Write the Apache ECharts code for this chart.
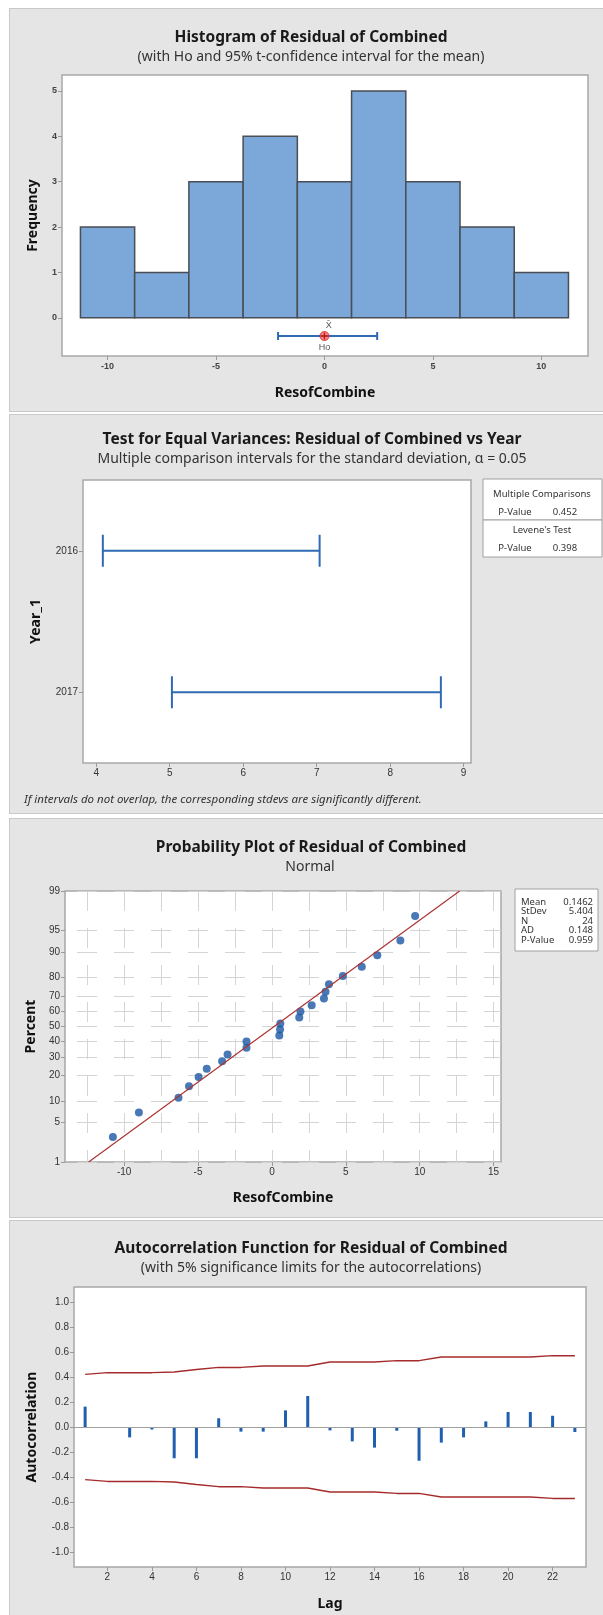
<!DOCTYPE html>
<html>
<head>
<meta charset="utf-8">
<script src="https://cdn.jsdelivr.net/npm/echarts@6/dist/echarts.min.js"></script>
<style>
  html, body { margin: 0; padding: 0; background: #fff; }
  #wrap { position: relative; width: 603px; height: 1615px; overflow: hidden; }
  .panel { position: absolute; left: 9px; width: 600px; background: #e5e5e5; border: 1px solid #c9c9c9; box-sizing: border-box; }
  #chart { position: absolute; left: 0; top: 0; width: 603px; height: 1615px; }
</style>
</head>
<body>
<div id="wrap">
  <div class="panel" style="top:8px;height:404px"></div>
  <div class="panel" style="top:414px;height:400px"></div>
  <div class="panel" style="top:818px;height:400px"></div>
  <div class="panel" style="top:1220px;height:400px"></div>
  <div id="chart"></div>
</div>
<script>
// --- histogram of residuals
const binMids = [-10, -7.5, -5, -2.5, 0, 2.5, 5, 7.5, 10];
const binWidth = 2.5;
const binCounts = [2, 1, 3, 4, 3, 5, 3, 2, 1];
const histTicksX = [-10, -5, 0, 5, 10];
const histTicksY = [0, 1, 2, 3, 4, 5];
const meanCI = [-2.14, 2.43];
const meanVal = 0.1462;
const hoVal = 0;

// --- test for equal variances
const years = ['2016', '2017'];
const sdLow = [4.09, 5.03];
const sdHigh = [7.04, 8.69];
const varTicks = [4, 5, 6, 7, 8, 9];
const mcPValue = '0.452';
const levenePValue = '0.398';

// --- probability plot
const residuals = [-10.76, -9.0, -6.32, -5.61, -4.96, -4.41, -3.37, -3.0, -1.72, -1.72, 0.5, 0.55,
  0.57, 1.85, 1.93, 2.69, 3.52, 3.63, 3.86, 4.8, 6.08, 7.13, 8.69, 9.69];
const percents = [2.9, 7.0, 11.1, 15.2, 19.3, 23.4, 27.5, 31.6, 35.7, 39.8, 43.9, 48.0,
  52.0, 56.1, 60.2, 64.3, 68.4, 72.5, 76.6, 80.7, 84.8, 88.9, 93.0, 97.1];
const fitX = [-12.4, 12.7];
const fitP = [1, 99];
const probTicksX = [-10, -5, 0, 5, 10, 15];
const probGridX = [-12.5, -10, -7.5, -5, -2.5, 0, 2.5, 5, 7.5, 10, 12.5, 15];
const percentTicks = [1, 5, 10, 20, 30, 40, 50, 60, 70, 80, 90, 95, 99];
const statNames = ['Mean', 'StDev', 'N', 'AD', 'P-Value'];
const statValues = ['0.1462', '5.404', '24', '0.148', '0.959'];

// --- autocorrelation
const lags = [1, 2, 3, 4, 5, 6, 7, 8, 9, 10, 11, 12, 13, 14, 15, 16, 17, 18, 19, 20, 21, 22, 23];
const acf = [0.163, 0.0, -0.083, -0.02, -0.25, -0.25, 0.07, -0.037, -0.037, 0.133, 0.248, -0.027,
  -0.115, -0.165, -0.03, -0.27, -0.125, -0.083, 0.045, 0.12, 0.12, 0.09, -0.04];
const upperLimit = [0.421, 0.435, 0.435, 0.435, 0.44, 0.46, 0.477, 0.477, 0.488, 0.488, 0.488, 0.52,
  0.52, 0.52, 0.531, 0.531, 0.56, 0.56, 0.56, 0.56, 0.56, 0.571, 0.571];
const lowerLimit = [-0.421, -0.435, -0.435, -0.435, -0.44, -0.46, -0.477, -0.477, -0.488, -0.488, -0.488, -0.52,
  -0.52, -0.52, -0.531, -0.531, -0.56, -0.56, -0.56, -0.56, -0.56, -0.571, -0.571];
const acfTicksX = [2, 4, 6, 8, 10, 12, 14, 16, 18, 20, 22];
const acfTicksY = [-1.0, -0.8, -0.6, -0.4, -0.2, 0.0, 0.2, 0.4, 0.6, 0.8, 1.0];

// inverse normal cdf (Acklam) for the probability scale
function probit(p) {
  const a = [-39.69683028665376, 220.9460984245205, -275.9285104469687, 138.357751867269, -30.66479806614716, 2.506628277459239];
  const b = [-54.47609879822406, 161.5858368580409, -155.6989798598866, 66.80131188771972, -13.28068155211639];
  const c = [-0.007784894002430293, -0.3223964580411365, -2.400758277161838, -2.549732539343734, 4.374664141464968, 2.938163982698783];
  const d = [0.007784695709041462, 0.3224671290700398, 2.445134137142996, 3.754408661907416];
  const pl = 0.02425;
  let q, r;
  if (p < pl) {
    q = Math.sqrt(-2 * Math.log(p));
    return (((((c[0]*q+c[1])*q+c[2])*q+c[3])*q+c[4])*q+c[5]) / ((((d[0]*q+d[1])*q+d[2])*q+d[3])*q+1);
  }
  if (p <= 1 - pl) {
    q = p - 0.5; r = q * q;
    return (((((a[0]*r+a[1])*r+a[2])*r+a[3])*r+a[4])*r+a[5])*q / (((((b[0]*r+b[1])*r+b[2])*r+b[3])*r+b[4])*r+1);
  }
  q = Math.sqrt(-2 * Math.log(1 - p));
  return -(((((c[0]*q+c[1])*q+c[2])*q+c[3])*q+c[4])*q+c[5]) / ((((d[0]*q+d[1])*q+d[2])*q+d[3])*q+1);
}
const probTicksY = percentTicks.map(p => probit(p / 100));

const chart = echarts.init(document.getElementById('chart'));

const tickFont = { fontFamily: 'Liberation Sans', fontSize: 10, color: '#333' };
const nameFont = { fontFamily: 'Noto Sans', fontSize: 14, fontWeight: 'bold', color: '#111' };
const titleFont = 'bold 15.5px "Noto Sans"';
const subFont = '14px "Noto Sans"';
const smallFont = '9.5px "Noto Sans"';
const boxBorder = '#a8a8a8';

function txt(x, y, s, font, align, color) {
  return {
    type: 'text', x: x, y: y, silent: true,
    style: { text: s, font: font, textAlign: align || 'center', textVerticalAlign: 'middle',
      align: align || 'center', verticalAlign: 'middle', fill: color || '#1a1a1a' }
  };
}
function box(x, y, w, h) {
  return { type: 'rect', silent: true, shape: { x: x, y: y, width: w, height: h },
    style: { fill: '#fff', stroke: '#a0a0a0', lineWidth: 1 } };
}

function valueAxis(gi, min, max, ticks, extra) {
  return Object.assign({
    type: 'value', gridIndex: gi, min: min, max: max,
    axisLine: { show: false, onZero: false },
    axisTick: { show: true, length: 4, customValues: ticks, lineStyle: { color: '#9a9a9a' } },
    axisLabel: Object.assign({ customValues: ticks, margin: 5 }, tickFont),
    splitLine: { show: false }
  }, extra || {});
}

const gridStyle = { show: true, backgroundColor: '#fff', borderColor: boxBorder, borderWidth: 1.5 };
const gridDash = { color: '#d4d4d4', width: 1, type: [20, 17] };

const option = {
  animation: false,
  grid: [
    Object.assign({ left: 62, top: 75, width: 526, height: 281 }, gridStyle),
    Object.assign({ left: 83, top: 480, width: 388, height: 283 }, gridStyle),
    Object.assign({ left: 65, top: 891, width: 436, height: 271 }, gridStyle),
    Object.assign({ left: 74, top: 1287, width: 512, height: 280 }, gridStyle)
  ],
  xAxis: [
    valueAxis(0, -12.1, 12.15, histTicksX, {
      name: 'ResofCombine', nameLocation: 'middle', nameGap: 30, nameTextStyle: nameFont,
      axisLabel: Object.assign({ customValues: histTicksX, margin: 6 }, tickFont, { fontSize: 9, fontWeight: 'bold', color: '#444' })
    }),
    valueAxis(1, 3.82, 9.1, varTicks),
    valueAxis(2, -14, 15.5, probTicksX, { name: 'ResofCombine', nameLocation: 'middle', nameGap: 29, nameTextStyle: nameFont }),
    {
      type: 'value', gridIndex: 2, min: -14, max: 15.5,
      axisLine: { show: false, onZero: false }, axisLabel: { show: false },
      axisTick: { show: false, customValues: probGridX },
      splitLine: { show: true, lineStyle: gridDash }
    },
    valueAxis(3, 0.5, 23.5, acfTicksX, { name: 'Lag', nameLocation: 'middle', nameGap: 30, nameTextStyle: nameFont })
  ],
  yAxis: [
    valueAxis(0, -0.84, 5.35, histTicksY, {
      name: 'Frequency', nameLocation: 'middle', nameGap: 22, nameTextStyle: nameFont,
      axisLabel: Object.assign({ customValues: histTicksY, margin: 5 }, tickFont, { fontSize: 9, fontWeight: 'bold', color: '#444' })
    }),
    {
      type: 'category', gridIndex: 1, data: years, inverse: true,
      axisLine: { show: false, onZero: false },
      axisTick: { show: true, length: 4, alignWithLabel: true, lineStyle: { color: '#9a9a9a' } },
      axisLabel: Object.assign({ margin: 5 }, tickFont),
      name: 'Year_1', nameLocation: 'middle', nameGap: 40, nameTextStyle: nameFont
    },
    valueAxis(2, probit(0.01), probit(0.99), probTicksY, {
      name: 'Percent', nameLocation: 'middle', nameGap: 23, nameTextStyle: nameFont,
      axisLabel: Object.assign({
        customValues: probTicksY, margin: 5,
        formatter: v => {
          const i = probTicksY.findIndex(t => Math.abs(t - v) < 1e-6);
          return i >= 0 ? String(percentTicks[i]) : '';
        }
      }, tickFont),
      splitLine: { show: true, lineStyle: Object.assign({ dashOffset: 25 }, gridDash) }
    }),
    valueAxis(3, -1.12, 1.12, acfTicksY, {
      name: 'Autocorrelation', nameLocation: 'middle', nameGap: 35, nameTextStyle: nameFont,
      axisLabel: Object.assign({ customValues: acfTicksY, margin: 5, formatter: v => v.toFixed(1) }, tickFont)
    })
  ],
  series: [
    // histogram bars
    {
      type: 'custom', xAxisIndex: 0, yAxisIndex: 0,
      data: binMids.map((m, i) => [m, binCounts[i]]),
      renderItem: (params, api) => {
        const m = api.value(0), c = api.value(1);
        const p0 = api.coord([m - binWidth / 2, c]);
        const p1 = api.coord([m + binWidth / 2, 0]);
        return {
          type: 'rect',
          shape: { x: p0[0], y: p0[1], width: p1[0] - p0[0], height: p1[1] - p0[1] },
          style: { fill: '#7ba7d9', stroke: '#4a4e54', lineWidth: 1.5 }
        };
      }
    },
    // confidence interval for the mean, with the X-bar and Ho labels
    {
      type: 'custom', xAxisIndex: 0, yAxisIndex: 0,
      data: [[meanCI[0], meanCI[1], meanVal, hoVal]],
      encode: { x: [0, 1] },
      renderItem: (params, api) => {
        const a = api.coord([api.value(0), -0.4]);
        const b = api.coord([api.value(1), -0.4]);
        const m = api.coord([api.value(2), -0.4]);
        const h = api.coord([api.value(3), -0.4]);
        const st = { stroke: '#2e6bb3', lineWidth: 2 };
        const lab = (x, y, s) => ({
          type: 'text', x: x, y: y,
          style: { text: s, fill: '#555', font: '9px "Liberation Sans"', textAlign: 'center', textVerticalAlign: 'middle',
            align: 'center', verticalAlign: 'middle' }
        });
        return { type: 'group', children: [
          { type: 'line', shape: { x1: a[0], y1: a[1], x2: b[0], y2: b[1] }, style: st },
          { type: 'line', shape: { x1: a[0], y1: a[1] - 4, x2: a[0], y2: a[1] + 4 }, style: st },
          { type: 'line', shape: { x1: b[0], y1: b[1] - 4, x2: b[0], y2: b[1] + 4 }, style: st },
          lab(m[0] + 1, m[1] - 11, 'X\u0304'),
          lab(h[0], h[1] + 11, 'Ho')
        ] };
      }
    },
    {
      type: 'scatter', xAxisIndex: 0, yAxisIndex: 0, symbolSize: 9, z: 3,
      itemStyle: { color: '#f26b6b', borderColor: '#d41c1c', borderWidth: 1 },
      data: [[hoVal, -0.4]]
    },
    {
      type: 'scatter', xAxisIndex: 0, yAxisIndex: 0, symbolSize: 7, z: 4,
      symbol: 'path://M4,0h2v4h4v2h-4v4h-2v-4h-4v-2h4z',
      itemStyle: { color: '#b00000' },
      data: [[hoVal, -0.4]]
    },
    // equal variances intervals
    {
      type: 'custom', xAxisIndex: 1, yAxisIndex: 1,
      data: years.map((y, i) => [sdLow[i], sdHigh[i], i]),
      encode: { x: [0, 1], y: 2 },
      renderItem: (params, api) => {
        const a = api.coord([api.value(0), api.value(2)]);
        const b = api.coord([api.value(1), api.value(2)]);
        const st = { stroke: '#2e6bb3', lineWidth: 2 };
        return { type: 'group', children: [
          { type: 'line', shape: { x1: a[0], y1: a[1], x2: b[0], y2: b[1] }, style: st },
          { type: 'line', shape: { x1: a[0], y1: a[1] - 16, x2: a[0], y2: a[1] + 16 }, style: st },
          { type: 'line', shape: { x1: b[0], y1: b[1] - 16, x2: b[0], y2: b[1] + 16 }, style: st }
        ] };
      }
    },
    // probability plot
    {
      type: 'line', xAxisIndex: 2, yAxisIndex: 2, symbol: 'none',
      lineStyle: { color: '#ad3333', width: 1.2 },
      data: fitX.map((x, i) => [x, probit(fitP[i] / 100)])
    },
    {
      type: 'scatter', xAxisIndex: 2, yAxisIndex: 2, symbolSize: 8,
      itemStyle: { color: '#1a58a4' },
      data: residuals.map((r, i) => [r, probit(percents[i] / 100)])
    },
    // autocorrelation
    {
      type: 'bar', xAxisIndex: 4, yAxisIndex: 3, barWidth: 3,
      itemStyle: { color: '#1f5fb0' },
      data: lags.map((l, i) => [l, acf[i]]),
      markLine: {
        silent: true, symbol: 'none', label: { show: false },
        lineStyle: { color: '#a0a0a0', width: 1, type: 'solid' },
        data: [{ yAxis: 0 }]
      }
    },
    {
      type: 'line', xAxisIndex: 4, yAxisIndex: 3, symbol: 'none',
      lineStyle: { color: '#a52b2b', width: 1.5 },
      data: lags.map((l, i) => [l, upperLimit[i]])
    },
    {
      type: 'line', xAxisIndex: 4, yAxisIndex: 3, symbol: 'none',
      lineStyle: { color: '#a52b2b', width: 1.5 },
      data: lags.map((l, i) => [l, lowerLimit[i]])
    }
  ],
  graphic: [
    txt(311, 38, 'Histogram of Residual of Combined', titleFont),
    txt(311, 57, '(with Ho and 95% t-confidence interval for the mean)', subFont, 'center', '#333'),

    txt(312, 440, 'Test for Equal Variances: Residual of Combined vs Year', titleFont),
    txt(312, 459, 'Multiple comparison intervals for the standard deviation, \u03b1 = 0.05', subFont, 'center', '#333'),
    box(483, 479, 119, 41),
    box(483, 520, 119, 37),
    txt(542, 494, 'Multiple Comparisons', smallFont, 'center', '#333'),
    txt(515, 512, 'P-Value', smallFont, 'center', '#333'),
    txt(565, 512, mcPValue, smallFont, 'center', '#333'),
    txt(542, 530, "Levene's Test", smallFont, 'center', '#333'),
    txt(515, 548, 'P-Value', smallFont, 'center', '#333'),
    txt(565, 548, levenePValue, smallFont, 'center', '#333'),
    txt(24, 800, 'If intervals do not overlap, the corresponding stdevs are significantly different.',
      'italic 11.5px "Noto Sans"', 'left', '#333'),

    txt(311, 848, 'Probability Plot of Residual of Combined', titleFont),
    txt(310, 867, 'Normal', subFont, 'center', '#333'),
    box(515, 889, 83, 62),
    ...statNames.map((n, i) => txt(521, 902 + i * 9.5, n, smallFont, 'left', '#333')),
    ...statValues.map((v, i) => txt(593, 902 + i * 9.5, v, smallFont, 'right', '#333')),

    txt(311, 1249, 'Autocorrelation Function for Residual of Combined', titleFont),
    txt(311, 1268, '(with 5% significance limits for the autocorrelations)', subFont, 'center', '#333')
  ]
};

chart.setOption(option);
</script>
</body>
</html>
